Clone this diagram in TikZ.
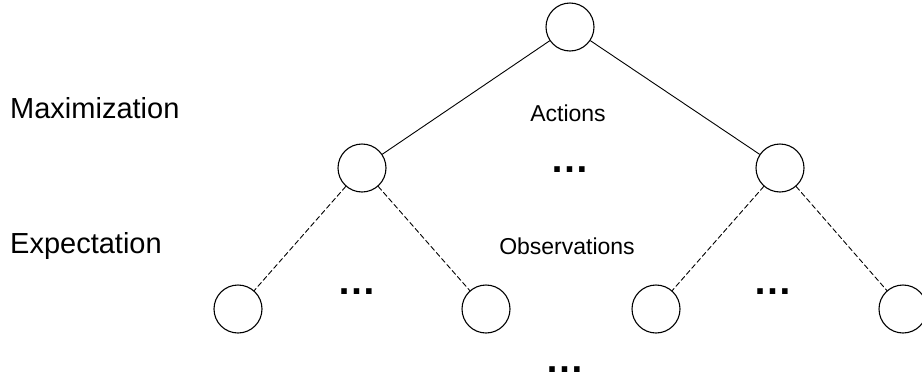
\documentclass[tikz,border=0pt]{standalone}
\usepackage{fontspec}
\setmainfont{Liberation Sans}
\begin{document}
\begin{tikzpicture}[x=1pt, y=-1pt, line join=round, line cap=round,
	state/.style={circle, draw, line width=1.1pt, minimum size=48pt, inner sep=0pt},
	lbl/.style={inner sep=0pt, anchor=base, font=\fontsize{23}{23}\selectfont},
	side/.style={inner sep=0pt, anchor=base west, font=\fontsize{29}{29}\selectfont},
	ellip/.style={inner sep=0pt, anchor=base, font=\fontsize{39}{39}\selectfont\bfseries}]
	\useasboundingbox (0,0) rectangle (922,381);
	% tree
	\node[state] (r) at (570,27) {};
	\node[state] (a1) at (362,168) {};
	\node[state] (a2) at (780,168) {};
	\foreach \n/\x in {o1/238,o2/486,o3/656,o4/903} \node[state] (\n) at (\x,309) {};
	\draw[line width=0.9pt] (r) -- (a1) (r) -- (a2);
	\draw[line width=0.9pt, dash pattern=on 5pt off 3pt] (a1) -- (o1) (a1) -- (o2) (a2) -- (o3) (a2) -- (o4);
	% labels
	\node[side] (max) at (10,118) {Maximization};
	\node[side] (exp) at (10,253) {Expectation};
	\node[lbl] (act) at (568,121) {Actions};
	\node[lbl] (obs) at (567,254) {Observations};
	\node[ellip] (d1) at (570,172) {…};
	\node[ellip] (d2) at (357,294) {…};
	\node[ellip] (d3) at (773,294) {…};
	\node[ellip] (d4) at (565,372) {…};
\end{tikzpicture}
\end{document}
